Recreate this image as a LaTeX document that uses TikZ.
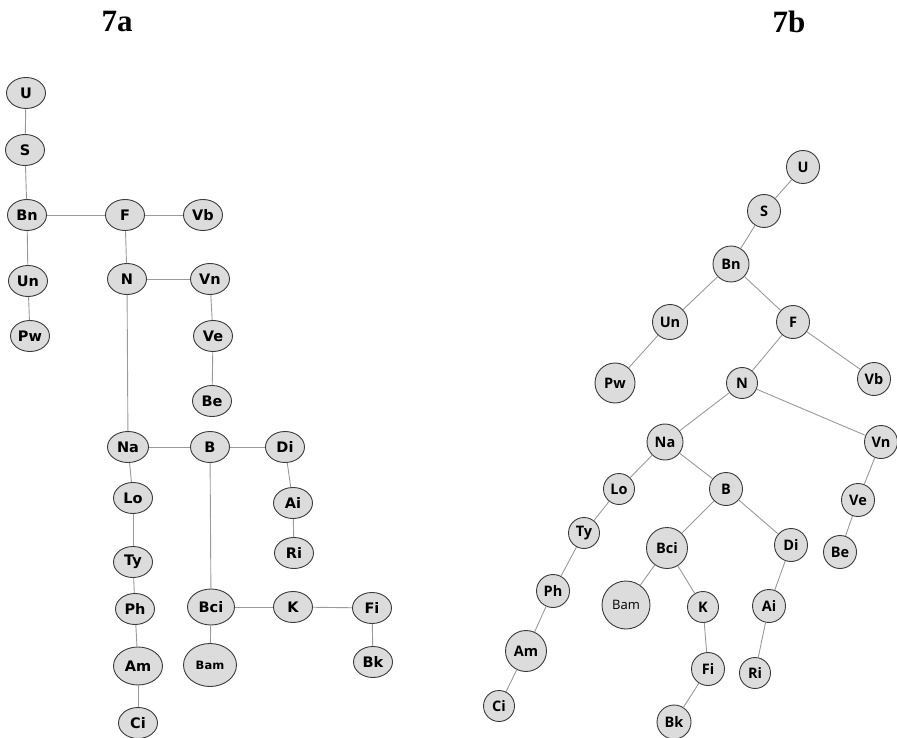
\documentclass[tikz,border=0pt]{standalone}
\usepackage{fontspec}
\setmainfont{Liberation Serif}
\newfontfamily\nodefont{DejaVu Sans}
\newfontfamily\treefont{Open Sans}
\usetikzlibrary{shapes.geometric}
\definecolor{nodefill}{HTML}{DCDCDC}
\definecolor{nodeline}{HTML}{3A3A3A}
\definecolor{edgeline}{HTML}{9A9A9A}
\tikzset{
  ea/.style={ellipse, draw=nodeline, line width=0.9pt, fill=nodefill, inner sep=0pt,
    minimum width=39pt, minimum height=31pt, font=\nodefont\bfseries\fontsize{14.5}{14.5}\selectfont},
  cb/.style={circle, draw=nodeline, line width=0.9pt, fill=nodefill, inner sep=0pt,
    minimum size=33pt, font=\treefont\bfseries\fontsize{14.5}{14.5}\selectfont},
  edge/.style={draw=edgeline, line width=0.9pt},
  caption/.style={font=\bfseries\fontsize{31}{31}\selectfont}
}
\begin{document}
\begin{tikzpicture}[x=1pt, y=-1pt]
\useasboundingbox (0,0) rectangle (897,738);

% captions
\node[caption] (ta) at (117,22) {7a};
\node[caption] (tb) at (789,22) {7b};

% ---- tree 7a ----
\node[ea] (aU)   at (26,93)   {U};
\node[ea] (aS)   at (25,150)  {S};
\node[ea] (aBn)  at (27,215)  {Bn};
\node[ea] (aF)   at (125,215) {F};
\node[ea] (aVb)  at (203,215) {Vb};
\node[ea] (aUn)  at (28,281)  {Un};
\node[ea] (aN)   at (127,279) {N};
\node[ea] (aVn)  at (210,279) {Vn};
\node[ea] (aPw)  at (30,336)  {Pw};
\node[ea] (aVe)  at (213,336) {Ve};
\node[ea] (aBe)  at (212,401) {Be};
\node[ea, minimum width=41pt] (aNa) at (128,447) {Na};
\node[ea] (aB)   at (210,447) {B};
\node[ea] (aDi)  at (285,447) {Di};
\node[ea] (aLo)  at (133,498) {Lo};
\node[ea] (aAi)  at (293,503) {Ai};
\node[ea] (aRi)  at (294,553) {Ri};
\node[ea] (aTy)  at (133,562) {Ty};
\node[ea] (aPh)  at (135,609) {Ph};
\node[ea, minimum width=47pt, minimum height=36pt] (aBci) at (211,607) {Bci};
\node[ea] (aK)   at (293,607) {K};
\node[ea] (aFi)  at (372,608) {Fi};
\node[ea, minimum width=49pt, minimum height=38pt] (aAm) at (138,666) {Am};
\node[ea, minimum width=53pt, minimum height=43pt, font=\nodefont\bfseries\fontsize{11.5}{11.5}\selectfont] (aBam) at (210,665) {Bam};
\node[ea] (aBk)  at (373,662) {Bk};
\node[ea] (aCi)  at (138,723) {Ci};

\path[edge] (aU) -- (aS);
\path[edge] (aS) -- (aBn);
\path[edge] (aBn) -- (aF);
\path[edge] (aF) -- (aVb);
\path[edge] (aBn) -- (aUn);
\path[edge] (aUn) -- (aPw);
\path[edge] (aF) -- (aN);
\path[edge] (aN) -- (aVn);
\path[edge] (aVn) -- (aVe);
\path[edge] (aVe) -- (aBe);
\path[edge] (aN) -- (aNa);
\path[edge] (aNa) -- (aB);
\path[edge] (aB) -- (aDi);
\path[edge] (aDi) -- (aAi);
\path[edge] (aAi) -- (aRi);
\path[edge] (aNa) -- (aLo);
\path[edge] (aLo) -- (aTy);
\path[edge] (aTy) -- (aPh);
\path[edge] (aPh) -- (aAm);
\path[edge] (aAm) -- (aCi);
\path[edge] (aB) -- (aBci);
\path[edge] (aBci) -- (aK);
\path[edge] (aK) -- (aFi);
\path[edge] (aFi) -- (aBk);
\path[edge] (aBci) -- (aBam);

% ---- tree 7b ----
\node[cb] (bU)   at (803,167) {U};
\node[cb] (bS)   at (764,211) {S};
\node[cb, minimum size=36pt] (bBn) at (731,264) {Bn};
\node[cb, minimum size=35pt] (bUn) at (670,322) {Un};
\node[cb] (bF)   at (793,322) {F};
\node[cb, minimum size=40pt] (bPw) at (615,383) {Pw};
\node[cb, minimum size=31pt] (bN) at (742,383) {N};
\node[cb] (bVb)  at (874,379) {Vb};
\node[cb, minimum size=36pt] (bNa) at (665,442) {Na};
\node[cb] (bVn)  at (881,442) {Vn};
\node[cb, minimum size=31pt] (bLo) at (619,489) {Lo};
\node[cb] (bB)   at (726,489) {B};
\node[cb] (bVe)  at (858,500) {Ve};
\node[cb, minimum size=31pt] (bTy) at (584,533) {Ty};
\node[cb, minimum size=41pt] (bBci) at (667,548) {Bci};
\node[cb] (bDi)  at (791,545) {Di};
\node[cb] (bBe)  at (840,552) {Be};
\node[cb] (bPh)  at (553,591) {Ph};
\node[cb, minimum size=48pt, font=\treefont\fontsize{13}{13}\selectfont] (bBam) at (626,605) {Bam};
\node[cb, minimum size=31pt] (bK) at (703,607) {K};
\node[cb] (bAi)  at (769,606) {Ai};
\node[cb, minimum size=41pt] (bAm) at (526,651) {Am};
\node[cb] (bFi)  at (708,669) {Fi};
\node[cb, minimum size=31pt] (bRi) at (755,673) {Ri};
\node[cb, minimum size=31pt] (bCi) at (499,706) {Ci};
\node[cb, minimum size=34pt] (bBk) at (674,722) {Bk};

\path[edge] (bU) -- (bS);
\path[edge] (bS) -- (bBn);
\path[edge] (bBn) -- (bUn);
\path[edge] (bBn) -- (bF);
\path[edge] (bUn) -- (bPw);
\path[edge] (bF) -- (bN);
\path[edge] (bF) -- (bVb);
\path[edge] (bN) -- (bNa);
\path[edge] (bN) -- (bVn);
\path[edge] (bNa) -- (bLo);
\path[edge] (bNa) -- (bB);
\path[edge] (bLo) -- (bTy);
\path[edge] (bTy) -- (bPh);
\path[edge] (bPh) -- (bAm);
\path[edge] (bAm) -- (bCi);
\path[edge] (bB) -- (bBci);
\path[edge] (bB) -- (bDi);
\path[edge] (bBci) -- (bBam);
\path[edge] (bBci) -- (bK);
\path[edge] (bK) -- (bFi);
\path[edge] (bFi) -- (bBk);
\path[edge] (bDi) -- (bAi);
\path[edge] (bAi) -- (bRi);
\path[edge] (bVn) -- (bVe);
\path[edge] (bVe) -- (bBe);
\end{tikzpicture}
\end{document}
